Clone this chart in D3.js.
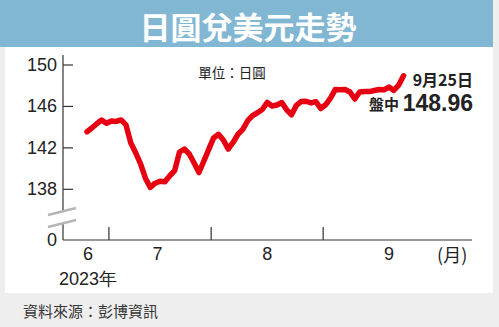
<!DOCTYPE html>
<html>
<head>
<meta charset="utf-8">
<script src="https://cdn.jsdelivr.net/npm/d3@7"></script>
<style>
  body { margin: 0; background: #eeeeee; }
  svg { display: block; }
</style>
</head>
<body>
<div id="chart"></div>
<script>
// trading days, 2023/6/26 - 2023/9/25
const dates = [
  "6/26","6/27","6/28","6/29","6/30",
  "7/3","7/4","7/5","7/6","7/7","7/10","7/11","7/12","7/13","7/14",
  "7/17","7/18","7/19","7/20","7/21","7/24","7/25","7/26","7/27","7/28","7/31",
  "8/1","8/2","8/3","8/4","8/7","8/8","8/9","8/10","8/11",
  "8/14","8/15","8/16","8/17","8/18","8/21","8/22","8/23","8/24","8/25",
  "8/28","8/29","8/30","8/31",
  "9/1","9/4","9/5","9/6","9/7","9/8","9/11","9/12","9/13","9/14","9/15",
  "9/18","9/19","9/20","9/21","9/22","9/25"
];
const yen = [
  143.56, 143.92, 144.33, 144.69, 144.37,
  144.60, 144.55, 144.70, 144.22, 142.47, 141.53, 140.45, 139.07, 138.18, 138.59,
  138.78, 138.74, 139.31, 139.80, 141.60, 141.89, 141.41, 140.54, 139.62, 140.73, 141.85,
  142.96, 143.31, 142.76, 141.89, 142.52, 143.31, 143.78, 144.62, 145.12,
  145.39, 145.70, 146.38, 146.04, 146.14, 146.38, 145.67, 145.20, 146.10, 146.48,
  146.50, 146.34, 146.46, 145.80,
  146.16, 146.80, 147.64, 147.60, 147.63, 147.39, 146.72, 147.39, 147.45, 147.43, 147.54,
  147.64, 147.60, 147.87, 147.55, 148.05, 148.96
];
const yTicks = [138, 142, 146, 150];
const monthLabels = ["6", "7", "8", "9", "(月)"];
const monthLabelAt = [0.2, 14.5, 37, 62, 75];  // in trading-day index units

const W = 499, H = 327;
const cjk = "'Noto Sans CJK TC', 'Noto Sans CJK SC', sans-serif";
const num = "'Liberation Sans', Arial, sans-serif";

const svg = d3.select("#chart").append("svg")
  .attr("width", W).attr("height", H);

// backgrounds
svg.append("rect").attr("width", W).attr("height", H).attr("fill", "#eeeeee");
svg.append("rect").attr("x", 5).attr("y", 47).attr("width", 488).attr("height", 246).attr("fill", "#ffffff");
svg.append("rect").attr("x", 0).attr("y", 0).attr("width", 493).attr("height", 47).attr("fill", "#82b7d4");

svg.append("text")
  .attr("x", 248).attr("y", 25)
  .attr("text-anchor", "middle").attr("dominant-baseline", "central")
  .attr("font-family", cjk).attr("font-weight", "bold").attr("font-size", 31)
  .attr("fill", "#fff")
  .text("日圓兌美元走勢");

const x = d3.scaleLinear().domain([0, dates.length - 1]).range([87, 403.5]);
const y = d3.scaleLinear().domain([138, 150]).range([189.3, 65]);
const axisX = 63, baseY = 240;

// month boundaries
const bounds = [];
dates.forEach((d, i) => {
  if (i > 0 && d.split("/")[0] !== dates[i - 1].split("/")[0]) bounds.push(i - 0.5);
});

const axisColor = "#333";
const g = svg.append("g");

// x axis
g.append("line").attr("x1", axisX).attr("x2", 472).attr("y1", baseY).attr("y2", baseY)
  .attr("stroke", axisColor).attr("stroke-width", 1.2);
g.selectAll(".mt").data(bounds).join("line")
  .attr("x1", d => x(d)).attr("x2", d => x(d))
  .attr("y1", baseY).attr("y2", baseY - 13)
  .attr("stroke", axisColor).attr("stroke-width", 1.2);
g.selectAll(".ml").data(monthLabels).join("text")
  .attr("x", (d, i) => x(monthLabelAt[i])).attr("y", 254)
  .attr("text-anchor", "middle").attr("dominant-baseline", "central")
  .attr("font-family", (d, i) => i === 4 ? cjk : num).attr("font-size", 18)
  .attr("fill", "#222")
  .text(d => d);
g.append("text").attr("x", 88).attr("y", 279)
  .attr("text-anchor", "middle").attr("dominant-baseline", "central")
  .attr("font-family", num).attr("font-size", 18).attr("fill", "#222")
  .text("2023年");

// y axis
g.append("line").attr("x1", axisX).attr("x2", axisX).attr("y1", 55).attr("y2", baseY)
  .attr("stroke", axisColor).attr("stroke-width", 1.2);
g.selectAll(".yt").data(yTicks).join("line")
  .attr("x1", axisX).attr("x2", axisX + 10)
  .attr("y1", d => y(d)).attr("y2", d => y(d))
  .attr("stroke", axisColor).attr("stroke-width", 1.2);
g.selectAll(".yl").data(yTicks).join("text")
  .attr("x", 57).attr("y", d => y(d))
  .attr("text-anchor", "end").attr("dominant-baseline", "central")
  .attr("font-family", num).attr("font-size", 18).attr("fill", "#222")
  .text(d => d);
g.append("text").attr("x", 57).attr("y", baseY)
  .attr("text-anchor", "end").attr("dominant-baseline", "central")
  .attr("font-family", num).attr("font-size", 18).attr("fill", "#222")
  .text("0");

// axis break
g.append("path")
  .attr("d", "M48,215 L76,208 L76,220 L48,227 Z")
  .attr("fill", "#fff");
g.selectAll(".brk").data([0, 12]).join("line")
  .attr("x1", 48).attr("x2", 76)
  .attr("y1", d => 215 + d).attr("y2", d => 208 + d)
  .attr("stroke", "#b5b5b5").attr("stroke-width", 2.5);

// line
const line = d3.line().x((d, i) => x(i)).y(d => y(d)).curve(d3.curveLinear);
svg.append("path").datum(yen)
  .attr("d", line)
  .attr("fill", "none").attr("stroke", "#e60012")
  .attr("stroke-width", 5.5).attr("stroke-linejoin", "round").attr("stroke-linecap", "round");

// annotations
svg.append("text").attr("x", 232).attr("y", 72)
  .attr("text-anchor", "middle").attr("dominant-baseline", "central")
  .attr("font-family", cjk).attr("font-size", 13.5).attr("fill", "#222")
  .text("單位：日圓");
svg.append("text").attr("x", 473).attr("y", 79)
  .attr("text-anchor", "end").attr("dominant-baseline", "central")
  .attr("font-family", cjk).attr("font-weight", "bold").attr("font-size", 16).attr("fill", "#222")
  .text("9月25日");
svg.append("text").attr("x", 399).attr("y", 103)
  .attr("text-anchor", "end").attr("dominant-baseline", "central")
  .attr("font-family", cjk).attr("font-weight", "bold").attr("font-size", 15).attr("fill", "#222")
  .text("盤中");
svg.append("text").attr("x", 473).attr("y", 103)
  .attr("text-anchor", "end").attr("dominant-baseline", "central")
  .attr("font-family", num).attr("font-weight", "bold").attr("font-size", 23).attr("fill", "#222")
  .text(yen[yen.length - 1].toFixed(2));

// source
svg.append("text").attr("x", 23).attr("y", 310)
  .attr("dominant-baseline", "central")
  .attr("font-family", cjk).attr("font-size", 15).attr("fill", "#333")
  .text("資料來源：彭博資訊");
</script>
</body>
</html>
